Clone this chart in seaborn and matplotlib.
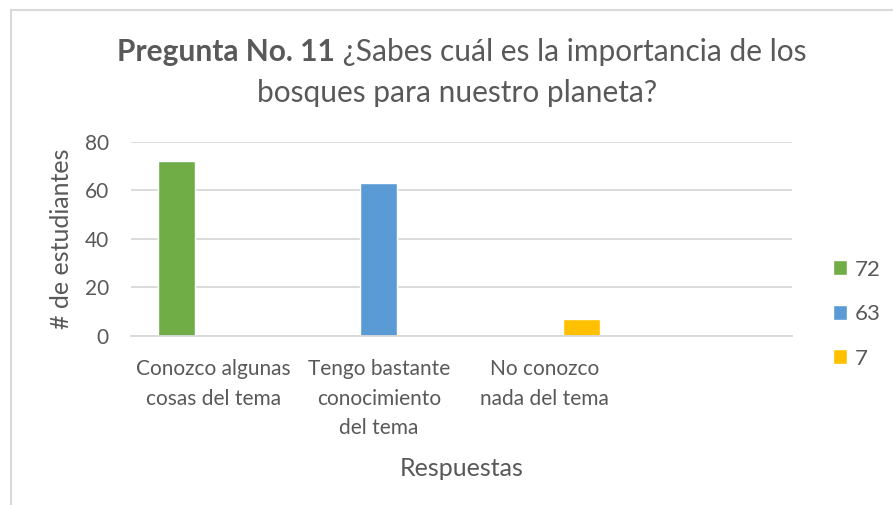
import pandas as pd
import matplotlib.pyplot as plt
import seaborn as sns
from matplotlib.lines import Line2D

categorias = ["Conozco algunas\ncosas del tema",
              "Tengo bastante\nconocimiento\ndel tema",
              "No conozco\nnada del tema",
              ""]
series = ["72", "63", "7"]
valores = [72, 63, 7]
colores = ["#70AD47", "#5B9BD5", "#FFC000"]

TEXTO = "#595959"
GRID = "#D9D9D9"

df = pd.DataFrame({
    "respuesta": categorias[:3],
    "serie": series,
    "valor": valores,
})

sns.set_theme(style="white")
plt.rcParams["font.family"] = ["Lato", "DejaVu Sans"]

fig = plt.figure(figsize=(8.93, 5.05), dpi=100)
ax = fig.add_axes([0.1467, 0.3353, 0.7403, 0.3841])

sns.barplot(data=df, x="respuesta", y="valor", hue="serie",
            order=categorias, hue_order=series,
            palette=colores, width=0.67, saturation=1,
            dodge=True, ax=ax)

ax.set_xlim(-0.5, 3.5)
ax.set_ylim(0, 80)
ax.set_yticks([0, 20, 40, 60, 80])
ax.yaxis.grid(True, color=GRID, linewidth=1.3)
ax.set_axisbelow(True)
for s in ["top", "right", "left"]:
    ax.spines[s].set_visible(False)
ax.spines["bottom"].set_color(GRID)
ax.spines["bottom"].set_linewidth(1.3)

ax.tick_params(axis="y", length=0, pad=16, labelsize=15, labelcolor=TEXTO)
ax.tick_params(axis="x", length=0, pad=17, labelsize=15, labelcolor=TEXTO)
for lbl in ax.get_xticklabels():
    lbl.set_linespacing(1.58)

ax.set_xlabel("Respuestas", fontsize=18, color=TEXTO, labelpad=14)
ax.set_ylabel("# de estudiantes", fontsize=18, color=TEXTO, labelpad=8)

handles, labels = ax.get_legend_handles_labels()
ax.legend(handles, labels, frameon=False, loc="center left",
          bbox_to_anchor=(0.91, 0.378), bbox_transform=fig.transFigure,
          fontsize=16, labelcolor=TEXTO, handlelength=0.65, handleheight=0.65,
          handletextpad=0.35, labelspacing=1.1)

t1 = fig.text(0.131, 0.897, "Pregunta No. 11", fontsize=21.5, color=TEXTO,
              fontweight="bold", ha="left", va="center")
fig.canvas.draw()
bb = t1.get_window_extent()
x2 = bb.x1 / fig.bbox.width
fig.text(x2, 0.897, " ¿Sabes cuál es la importancia de los", fontsize=21.5,
         color=TEXTO, ha="left", va="center")
fig.text(0.512, 0.815, "bosques para nuestro planeta?", fontsize=21.5,
         color=TEXTO, ha="center", va="center")

# marco del grafico
fig.add_artist(Line2D([11 / 893, 1], [1 - 10 / 505, 1 - 10 / 505],
                      color=GRID, linewidth=1.5, transform=fig.transFigure))
fig.add_artist(Line2D([11 / 893, 11 / 893], [0, 1 - 10 / 505],
                      color=GRID, linewidth=1.5, transform=fig.transFigure))

fig.savefig("out.png", dpi=100)
